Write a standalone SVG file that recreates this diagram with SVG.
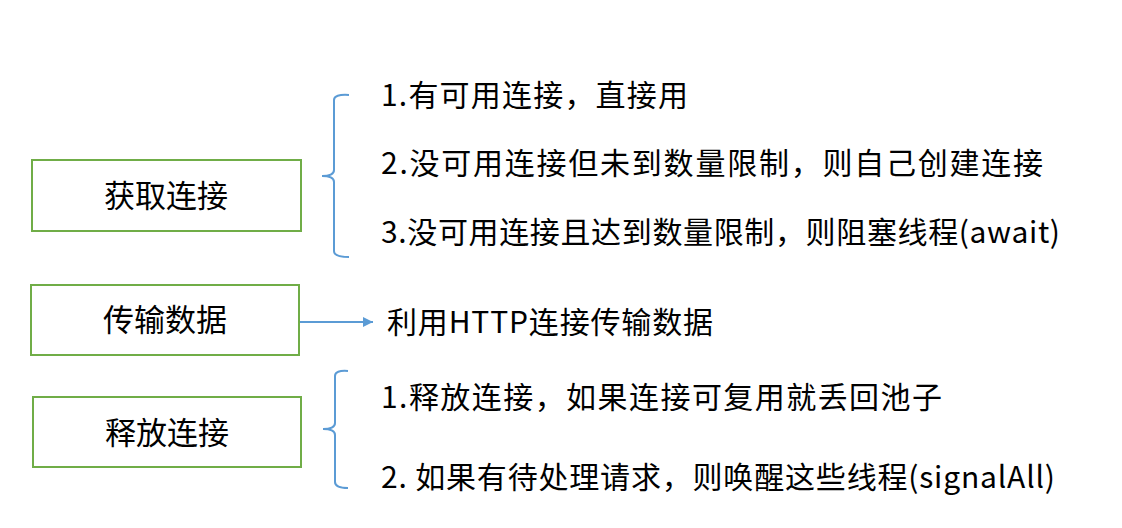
<svg xmlns="http://www.w3.org/2000/svg" width="1122" height="528" viewBox="0 0 1122 528">
<style>
.box{fill:#fff;stroke:#70AD47;stroke-width:2}
.lbl{font-family:"Noto Sans CJK SC","Liberation Sans",sans-serif;font-size:31px;fill:#000;text-anchor:middle}
.txt{font-family:"Noto Sans CJK SC","Liberation Sans",sans-serif;font-size:30px;fill:#000}
.brace{fill:none;stroke:#5B9BD5;stroke-width:2}
</style>
<defs>
<marker id="arr" viewBox="0 0 10 10" refX="10" refY="5" markerWidth="10" markerHeight="10" markerUnits="userSpaceOnUse" orient="auto">
<path d="M0,0 L10,5 L0,10 z" fill="#5B9BD5"/>
</marker>
</defs>
<rect width="1122" height="528" fill="#fff"/>
<g id="node-acquire">
<rect class="box" x="32" y="160" width="269" height="71"/>
<text class="lbl" x="166" y="207">获取连接</text>
</g>
<g id="node-transfer">
<rect class="box" x="31" y="285" width="268" height="70"/>
<text class="lbl" x="165" y="331">传输数据</text>
</g>
<g id="node-release">
<rect class="box" x="33" y="397" width="268" height="70"/>
<text class="lbl" x="167" y="444">释放连接</text>
</g>
<g id="acquire-items">
<text class="txt" x="381" y="106" textLength="307" lengthAdjust="spacing">1.有可用连接，直接用</text>
<text class="txt" x="381" y="174" textLength="662" lengthAdjust="spacing">2.没可用连接但未到数量限制，则自己创建连接</text>
<text class="txt" x="381" y="243" textLength="679" lengthAdjust="spacing">3.没可用连接且达到数量限制，则阻塞线程(await)</text>
</g>
<g id="transfer-item">
<text class="txt" x="387" y="333" textLength="326" lengthAdjust="spacing">利用HTTP连接传输数据</text>
</g>
<g id="release-items">
<text class="txt" x="381" y="408" textLength="561" lengthAdjust="spacing">1.释放连接，如果连接可复用就丢回池子</text>
<text class="txt" x="381" y="488" textLength="674" lengthAdjust="spacing">2. 如果有待处理请求，则唤醒这些线程(signalAll)</text>
</g>
<g id="connectors">
<path class="brace" d="M349,95 Q334,94 334,100 L334,170 Q334,176 322,176 Q334,176 334,182 L334,251 Q334,257 349,257"/>
<path class="brace" d="M348,371 Q335,370 335,376 L335,423 Q335,429 323,429 Q335,429 335,435 L335,482 Q335,488 348,488"/>
<line x1="300" y1="322" x2="373" y2="322" stroke="#5B9BD5" stroke-width="2" marker-end="url(#arr)"/>
</g>
</svg>
